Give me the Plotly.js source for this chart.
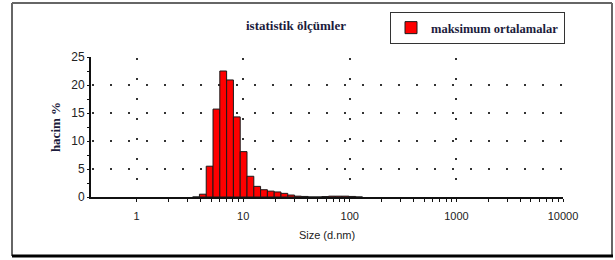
<!DOCTYPE html>
<html>
<head>
<meta charset="utf-8">
<script src="https://cdn.plot.ly/plotly-3.0.1.min.js"></script>
<style>html,body{margin:0;padding:0;background:#fff;}#chart{width:615px;height:260px;}</style>
</head>
<body>
<div id="chart"></div>
<script>
// Size bins (d.nm) — bin centres
const sizes = [3.615, 4.187, 4.849, 5.615, 6.503, 7.531, 8.721, 10.1, 11.7, 13.54, 15.69, 18.17, 21.04, 24.36, 28.21, 32.67, 37.84, 43.82, 50.75, 58.77, 68.06, 78.82, 91.28, 105.7, 122.4];
// Volume % (hacim %)
const volume = [0, 0.5, 5.5, 15.7, 22.5, 20.9, 14.3, 8.1, 3.7, 1.9, 1.3, 1.05, 0.9, 0.65, 0.35, 0.15, 0.1, 0, 0, 0.08, 0.15, 0.15, 0.15, 0.1, 0];
const seriesName = 'maksimum ortalamalar';
const chartTitle = 'istatistik ölçümler';
const yTitle = 'hacim %';
const xTitle = 'Size (d.nm)';
const xTickVals = [1, 10, 100, 1000, 10000];
const xTickText = ['1', '10', '100', '1000', '10000'];
const yTickVals = [0, 5, 10, 15, 20, 25];

// minor log ticks 2..9 within each labelled decade
const xMinorVals = [];
xTickVals.slice(0, -1).forEach(d => { for (let k = 2; k <= 9; k++) xMinorVals.push(d * k); });

// geometric bin edges from neighbouring centres
const leftEdge = sizes.map((s, i) => i > 0 ? Math.sqrt(s * sizes[i - 1]) : s / Math.sqrt(sizes[1] / sizes[0]));
const rightEdge = sizes.map((s, i) => i < sizes.length - 1 ? Math.sqrt(s * sizes[i + 1]) : s * Math.sqrt(s / sizes[i - 1]));
const widths = sizes.map((s, i) => rightEdge[i] - leftEdge[i]);
const offsets = sizes.map((s, i) => leftEdge[i] - s);

const W = 615, H = 260;
const M = {l: 91, r: 52, t: 57, b: 63};
const pw = W - M.l - M.r, ph = H - M.t - M.b;
const px = x => (x - M.l) / pw;
const py = y => 1 - (y - M.t) / ph;

const navy = '#1c1c3c';
const xr = [-0.427, 4];

const trace = {
  type: 'bar',
  x: sizes,
  y: volume,
  width: widths,
  offset: offsets,
  name: seriesName,
  showlegend: true,
  marker: {color: '#ff0000', line: {color: '#1a1a1a', width: 1}},
  xaxis: 'x', yaxis: 'y'
};

const layout = {
  width: W, height: H,
  margin: {l: M.l, r: M.r, t: M.t, b: M.b, pad: 0},
  paper_bgcolor: '#fff', plot_bgcolor: '#fff',
  showlegend: true,
  title: {
    text: '<b>' + chartTitle + '</b>',
    font: {family: 'Liberation Serif', size: 13, color: navy},
    xref: 'container', yref: 'container',
    x: 296 / W, y: 1 - 25 / H, xanchor: 'center', yanchor: 'middle'
  },
  legend: {
    x: px(390), y: py(12), xanchor: 'left', yanchor: 'top',
    bgcolor: '#fff', bordercolor: '#333', borderwidth: 1,
    font: {family: 'Liberation Serif', size: 12.5, color: navy, weight: 'bold'},
    itemwidth: 30
  },
  xaxis: {
    type: 'log', range: xr,
    tickmode: 'array', tickvals: xTickVals, ticktext: xTickText,
    ticks: 'outside', ticklen: 3, tickwidth: 1, tickcolor: '#111',
    minor: {tickmode: 'array', tickvals: xMinorVals, ticks: 'outside', ticklen: 3, tickwidth: 1, tickcolor: '#111', showgrid: false},
    showline: true, linecolor: '#111', linewidth: 2,
    showgrid: true, gridcolor: '#333', gridwidth: 2, griddash: '0px,1px,2px,17px',
    zeroline: false,
    tickfont: {family: 'Liberation Sans', size: 11, color: '#222'},
    ticklabelstandoff: 5,
    title: {text: xTitle, font: {family: 'Liberation Sans', size: 11, color: '#222'}, standoff: 10},
    fixedrange: true
  },
  xaxis2: {
    type: 'log', range: xr, overlaying: 'x', anchor: 'y', side: 'bottom',
    tickmode: 'array', tickvals: xTickVals, ticks: 'inside', ticklen: 3, tickwidth: 1, tickcolor: '#111',
    minor: {tickmode: 'array', tickvals: xMinorVals, ticks: 'inside', ticklen: 3, tickwidth: 1, tickcolor: '#111'},
    showticklabels: false, showgrid: false, showline: false, zeroline: false
  },
  yaxis: {
    range: [0, 25], tickmode: 'array', tickvals: yTickVals,
    ticks: 'outside', ticklen: 2, tickwidth: 1, tickcolor: '#111',
    minor: {ticks: 'outside', ticklen: 2, tickwidth: 1, tickcolor: '#111', dtick: 2.5, showgrid: false},
    showline: true, linecolor: '#111', linewidth: 2,
    showgrid: true, gridcolor: '#333', gridwidth: 2, griddash: '0px,1px,2px,15px',
    zeroline: false,
    tickfont: {family: 'Liberation Sans', size: 12, color: '#222'},
    ticklabelstandoff: 0,
    title: {text: '<b>' + yTitle + '</b>', font: {family: 'Liberation Serif', size: 13, color: navy}, standoff: 8},
    fixedrange: true
  },
  yaxis2: {
    range: [0, 25], overlaying: 'y', anchor: 'x', side: 'left',
    tickmode: 'array', tickvals: yTickVals, ticks: 'inside', ticklen: 4, tickwidth: 1, tickcolor: '#111',
    minor: {ticks: 'inside', ticklen: 4, tickwidth: 1, tickcolor: '#111', dtick: 2.5},
    showticklabels: false, showgrid: false, showline: false, zeroline: false
  },
  shapes: [
    {type: 'line', xref: 'paper', yref: 'paper', x0: px(12), x1: px(612), y0: py(3), y1: py(3), line: {color: '#666', width: 2}},
    {type: 'line', xref: 'paper', yref: 'paper', x0: px(12), x1: px(12), y0: py(3), y1: py(256), line: {color: '#666', width: 2}},
    {type: 'line', xref: 'paper', yref: 'paper', x0: px(612), x1: px(612), y0: py(3), y1: py(256), line: {color: '#666', width: 2}},
    {type: 'line', xref: 'paper', yref: 'paper', x0: px(12), x1: px(613), y0: py(256), y1: py(256), line: {color: '#000', width: 3}}
  ]
};

Plotly.newPlot('chart', [trace], layout, {displayModeBar: false, staticPlot: true});
</script>
</body>
</html>
